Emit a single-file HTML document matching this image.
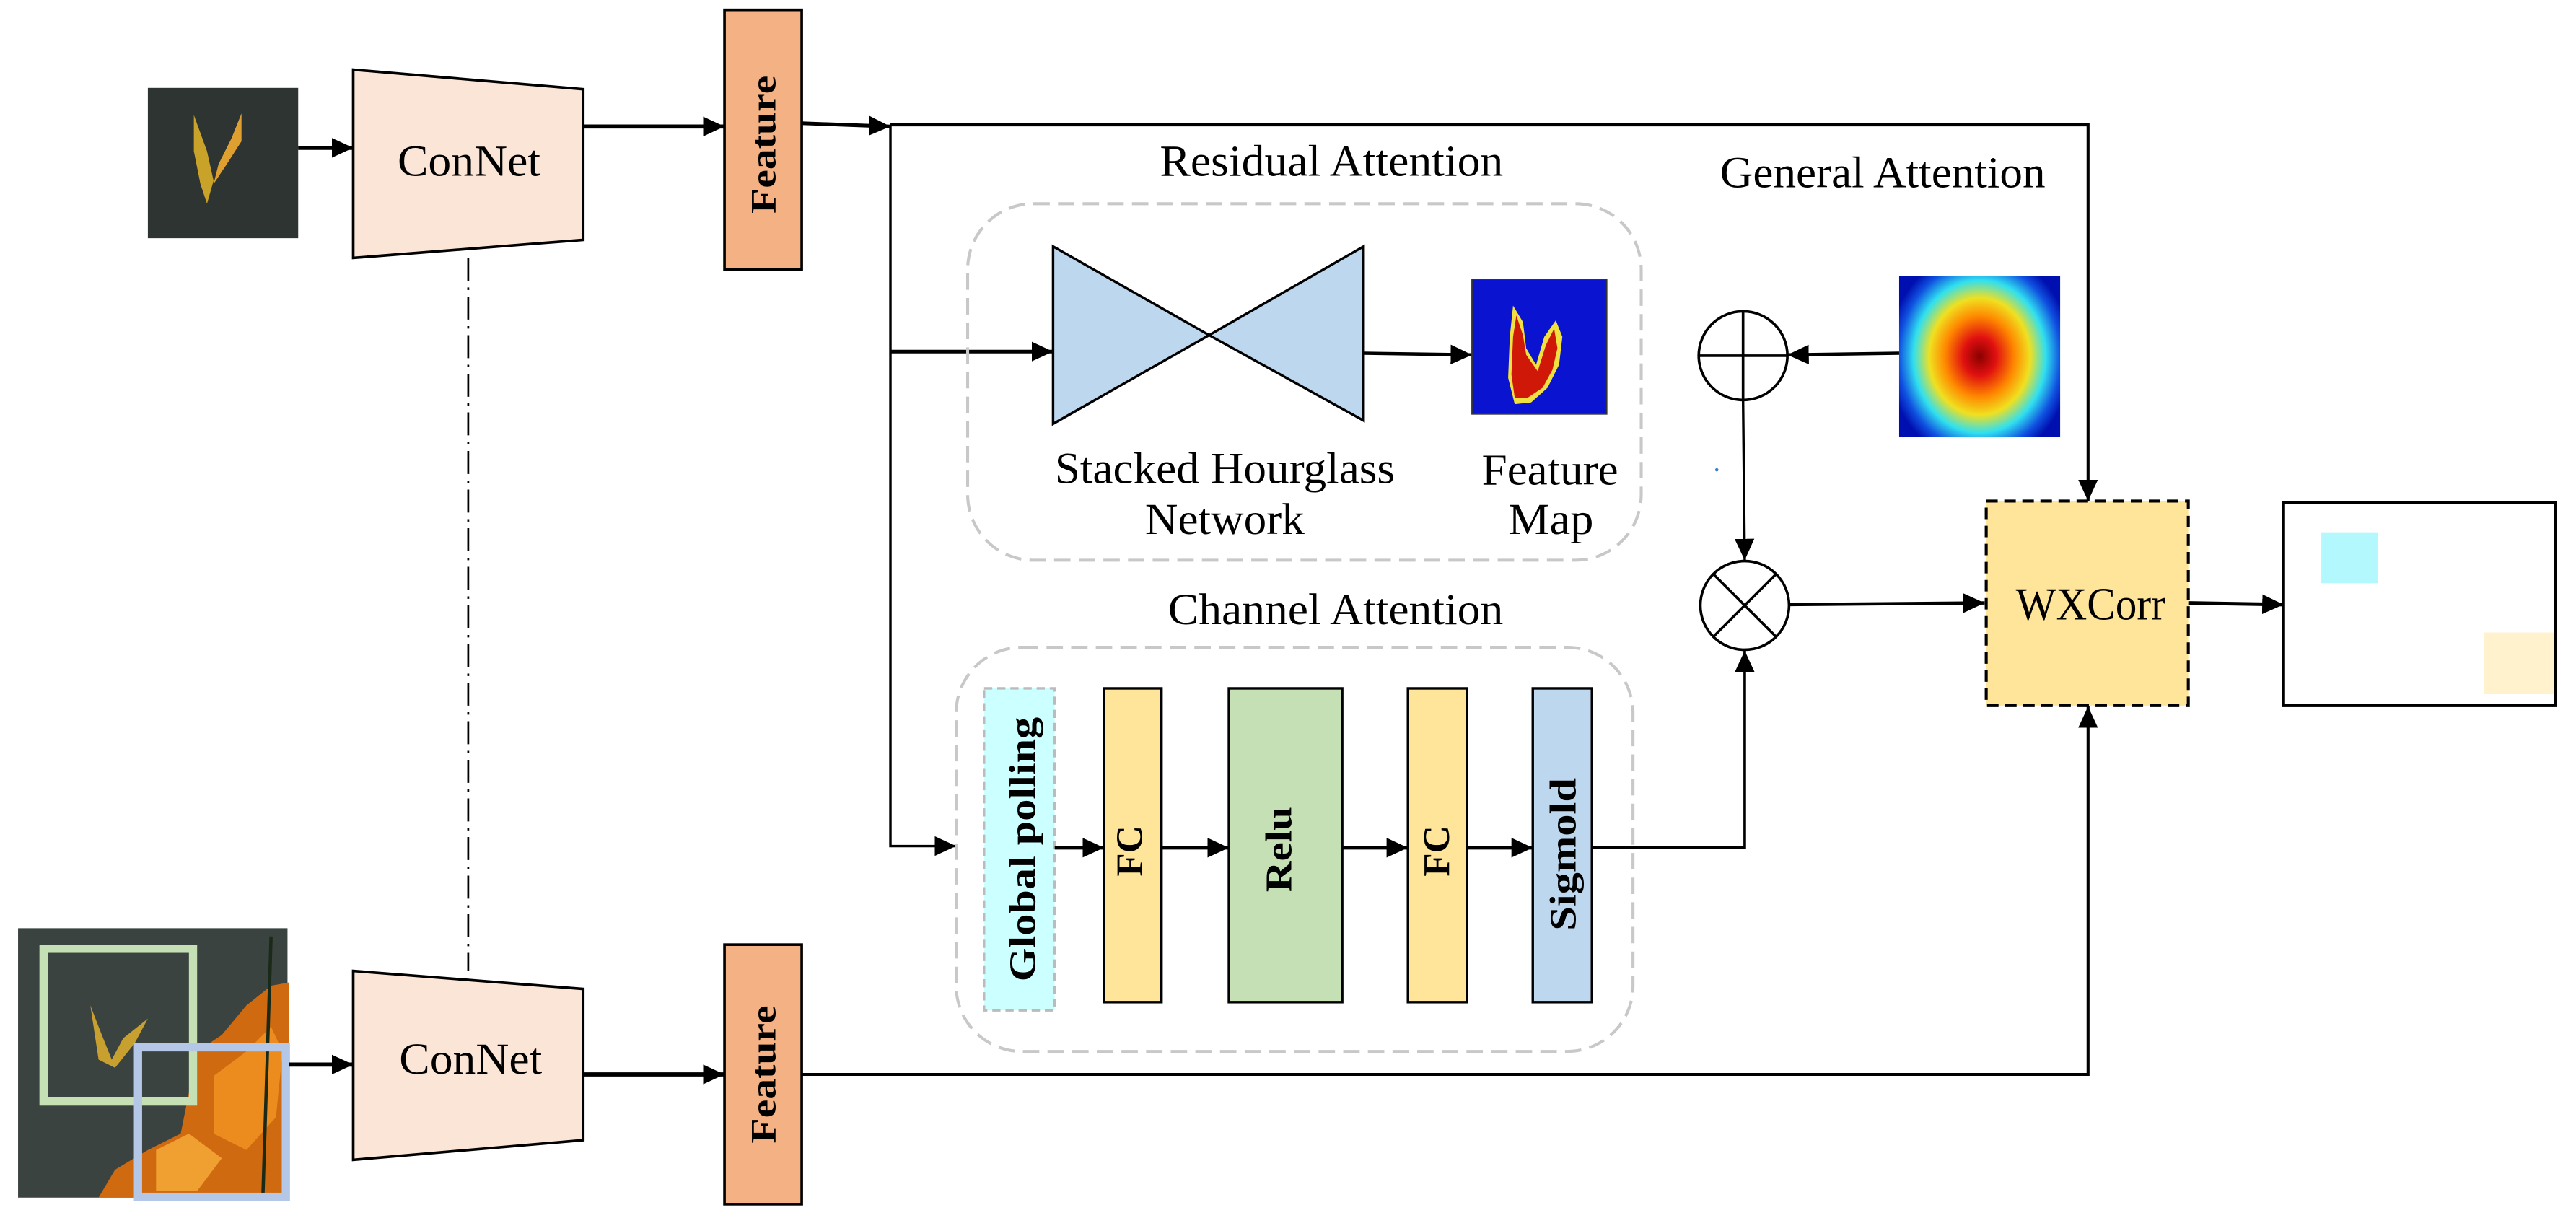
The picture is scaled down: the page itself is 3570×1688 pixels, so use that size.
<!DOCTYPE html>
<html><head><meta charset="utf-8"><style>
html,body{margin:0;padding:0;background:#fff;}
svg{display:block;}
text{font-family:"Liberation Serif",serif;fill:#000;}
</style></head><body>
<svg width="3570" height="1688" viewBox="0 0 1568 741.4" preserveAspectRatio="none" xmlns="http://www.w3.org/2000/svg">
<defs>
<marker id="a" markerUnits="userSpaceOnUse" markerWidth="14" markerHeight="12" refX="13" refY="6" orient="auto">
<path d="M0,0 L13,6 L0,12 Z" fill="#000"/></marker>
<radialGradient id="heat" cx="50%" cy="50%" r="60%" gradientTransform="translate(0.5,0.5) scale(0.95,1.1) translate(-0.5,-0.5)">
<stop offset="0" stop-color="#8a0000"/><stop offset="0.18" stop-color="#e01010"/>
<stop offset="0.38" stop-color="#ff8800"/><stop offset="0.55" stop-color="#f0e020"/>
<stop offset="0.72" stop-color="#30e0f0"/><stop offset="0.88" stop-color="#1050e0"/>
<stop offset="1" stop-color="#0010b0"/></radialGradient>
</defs>

<rect x="90" y="53.5" width="91.5" height="91.5" fill="#2e3432"/>
<path d="M118,70 L126,92 L130,110 L126,124 L122,112 L118,92 Z" fill="#c9a22a"/>
<path d="M147,69 L141,84 L133,100 L130,112 L138,100 L147,86 Z" fill="#e0a030"/>
<line x1="181.5" y1="90" x2="215" y2="90" stroke="#000" stroke-width="2.5" marker-end="url(#a)"/>

<polygon points="215,42.4 355,54.3 355,146 215,157" fill="#fbe5d6" stroke="#000" stroke-width="1.6"/>
<text x="285.5" y="107" font-size="27" text-anchor="middle" textLength="87" lengthAdjust="spacingAndGlyphs">ConNet</text>
<line x1="355" y1="77" x2="441" y2="77" stroke="#000" stroke-width="2.5" marker-end="url(#a)"/>

<rect x="441" y="6" width="47" height="158" fill="#f4b183" stroke="#000" stroke-width="1.6"/>
<text transform="translate(472,88) rotate(-90)" font-size="22" font-weight="bold" text-anchor="middle" textLength="84" lengthAdjust="spacingAndGlyphs">Feature</text>
<line x1="488" y1="75" x2="542" y2="77" stroke="#000" stroke-width="2.2" marker-end="url(#a)"/>

<polyline points="542,76 1271,76 1271,305" fill="none" stroke="#000" stroke-width="1.8" marker-end="url(#a)"/>
<polyline points="542,76 542,515 582,515" fill="none" stroke="#000" stroke-width="1.5" marker-end="url(#a)"/>
<line x1="542" y1="214" x2="641" y2="214" stroke="#000" stroke-width="2.2" marker-end="url(#a)"/>

<line x1="285" y1="157" x2="285" y2="591" stroke="#000" stroke-width="1.2" stroke-dasharray="14,4,1.5,4"/>

<text x="706" y="107" font-size="27" textLength="209" lengthAdjust="spacingAndGlyphs">Residual Attention</text>
<rect x="589" y="124" width="410" height="217" rx="40" fill="none" stroke="#c8c8c8" stroke-width="1.8" stroke-dasharray="10,5"/>
<polygon points="641,150 641,258 736,204" fill="#bdd7ee" stroke="#000" stroke-width="1.5"/>
<polygon points="830,150 830,256 736,204" fill="#bdd7ee" stroke="#000" stroke-width="1.5"/>
<line x1="830" y1="215" x2="896" y2="216" stroke="#000" stroke-width="2" marker-end="url(#a)"/>
<rect x="896" y="170" width="82" height="82" fill="#0a14d0" stroke="#333" stroke-width="0.8"/>
<path d="M921,186 L927,196 L929,212 L935,222 L940,205 L947,195 L951,205 L949,222 L942,236 L932,245 L922,246 L918,230 L919,205 Z" fill="#f0e040"/>
<path d="M923,192 L927,204 L929,216 L936,226 L941,210 L946,200 L948,212 L945,225 L939,236 L930,242 L922,242 L920,228 L921,205 Z" fill="#d01808"/>
<text x="745.5" y="294" font-size="27" text-anchor="middle" textLength="207" lengthAdjust="spacingAndGlyphs">Stacked Hourglass</text>
<text x="745.5" y="325" font-size="27" text-anchor="middle" textLength="97" lengthAdjust="spacingAndGlyphs">Network</text>
<text x="943.5" y="295" font-size="27" text-anchor="middle" textLength="83" lengthAdjust="spacingAndGlyphs">Feature</text>
<text x="944" y="325" font-size="27" text-anchor="middle" textLength="52" lengthAdjust="spacingAndGlyphs">Map</text>

<text x="1047" y="114" font-size="27" textLength="198" lengthAdjust="spacingAndGlyphs">General Attention</text>
<rect x="1156" y="168" width="98" height="98" fill="url(#heat)"/>
<line x1="1156" y1="215" x2="1088" y2="216" stroke="#000" stroke-width="2" marker-end="url(#a)"/>
<ellipse cx="1061" cy="216.5" rx="27" ry="27" fill="#fff" stroke="#000" stroke-width="1.6"/>
<line x1="1034" y1="216.5" x2="1088" y2="216.5" stroke="#000" stroke-width="1.6"/>
<line x1="1061" y1="189.5" x2="1061" y2="243.5" stroke="#000" stroke-width="1.6"/>
<line x1="1061" y1="243.5" x2="1062" y2="341" stroke="#000" stroke-width="1.5" marker-end="url(#a)"/>
<circle cx="1045" cy="286" r="1" fill="#3a7fc0"/>
<ellipse cx="1062" cy="368.5" rx="27" ry="27" fill="#fff" stroke="#000" stroke-width="1.6"/>
<line x1="1043" y1="349.5" x2="1081" y2="387.5" stroke="#000" stroke-width="1.6"/>
<line x1="1081" y1="349.5" x2="1043" y2="387.5" stroke="#000" stroke-width="1.6"/>
<line x1="1089" y1="368" x2="1208" y2="367" stroke="#000" stroke-width="2" marker-end="url(#a)"/>

<rect x="1209" y="305" width="123" height="124.5" fill="#fee599" stroke="#000" stroke-width="1.8" stroke-dasharray="7,4"/>
<text x="1227" y="377" font-size="28" textLength="91" lengthAdjust="spacingAndGlyphs">WXCorr</text>
<line x1="1332" y1="367" x2="1390" y2="368" stroke="#000" stroke-width="2.2" marker-end="url(#a)"/>
<rect x="1390" y="306" width="165.5" height="123.5" fill="#fff" stroke="#000" stroke-width="1.8"/>
<rect x="1413" y="324" width="34.5" height="31" fill="#b3f8fc"/>
<rect x="1512" y="385" width="42.5" height="37.5" fill="#fff2cc"/>

<text x="711" y="380" font-size="27" textLength="204" lengthAdjust="spacingAndGlyphs">Channel Attention</text>
<rect x="582" y="394" width="412" height="246" rx="40" fill="none" stroke="#c8c8c8" stroke-width="1.8" stroke-dasharray="10,5"/>
<rect x="599" y="419" width="43" height="196" fill="#ccffff" stroke="#bbbbbb" stroke-width="1.5" stroke-dasharray="5,3"/>
<rect x="672" y="419" width="35" height="191" fill="#fee599" stroke="#000" stroke-width="1.5"/>
<rect x="748" y="419" width="69" height="191" fill="#c5e0b4" stroke="#000" stroke-width="1.5"/>
<rect x="857" y="419" width="36" height="191" fill="#fee599" stroke="#000" stroke-width="1.5"/>
<rect x="933" y="419" width="36" height="191" fill="#bdd7ee" stroke="#000" stroke-width="1.5"/>
<text transform="translate(630,517) rotate(-90)" font-size="23" font-weight="bold" text-anchor="middle" textLength="161" lengthAdjust="spacingAndGlyphs">Global polling</text>
<text transform="translate(695,518) rotate(-90)" font-size="23" font-weight="bold" text-anchor="middle" textLength="31" lengthAdjust="spacingAndGlyphs">FC</text>
<text transform="translate(786,517) rotate(-90)" font-size="23" font-weight="bold" text-anchor="middle" textLength="52" lengthAdjust="spacingAndGlyphs">Relu</text>
<text transform="translate(882,518) rotate(-90)" font-size="23" font-weight="bold" text-anchor="middle" textLength="31" lengthAdjust="spacingAndGlyphs">FC</text>
<text transform="translate(959,520) rotate(-90)" font-size="23" font-weight="bold" text-anchor="middle" textLength="93" lengthAdjust="spacingAndGlyphs">Sigmold</text>
<line x1="642" y1="516" x2="672" y2="516" stroke="#000" stroke-width="2.2" marker-end="url(#a)"/>
<line x1="707" y1="516" x2="748" y2="516" stroke="#000" stroke-width="2.2" marker-end="url(#a)"/>
<line x1="817" y1="516" x2="857" y2="516" stroke="#000" stroke-width="2.2" marker-end="url(#a)"/>
<line x1="893" y1="516" x2="933" y2="516" stroke="#000" stroke-width="2.2" marker-end="url(#a)"/>
<polyline points="969,516 1062,516 1062,396" fill="none" stroke="#000" stroke-width="1.6" marker-end="url(#a)"/>

<rect x="11" y="565" width="164" height="164" fill="#3b4341"/>
<path d="M120,640 L135,630 L150,612 L165,600 L176,598 L176,729 L60,729 L70,712 L90,700 L110,690 Z" fill="#d06a10"/>
<path d="M130,655 L150,640 L165,625 L172,640 L168,680 L150,700 L130,690 Z" fill="#f09020" opacity="0.9"/>
<path d="M95,700 L115,690 L135,705 L120,725 L95,725 Z" fill="#f0a030"/>
<line x1="165" y1="570" x2="160" y2="729" stroke="#1a2a18" stroke-width="2"/>
<path d="M55,612 L62,630 L68,645 L75,632 L90,620 L82,635 L70,650 L60,645 Z" fill="#c8a030"/>
<rect x="26.5" y="577.5" width="91" height="93" fill="none" stroke="#c5e0b4" stroke-width="5"/>
<rect x="84" y="637.5" width="90" height="91" fill="none" stroke="#b4c7e7" stroke-width="5"/>
<line x1="176" y1="648" x2="215" y2="648" stroke="#000" stroke-width="2.5" marker-end="url(#a)"/>

<polygon points="215,591 355,602 355,694 215,706" fill="#fbe5d6" stroke="#000" stroke-width="1.6"/>
<text x="286.5" y="653.5" font-size="27" text-anchor="middle" textLength="87" lengthAdjust="spacingAndGlyphs">ConNet</text>
<line x1="355" y1="654" x2="441" y2="654" stroke="#000" stroke-width="2.5" marker-end="url(#a)"/>
<rect x="441" y="575" width="47" height="158" fill="#f4b183" stroke="#000" stroke-width="1.6"/>
<text transform="translate(472,654) rotate(-90)" font-size="22" font-weight="bold" text-anchor="middle" textLength="84" lengthAdjust="spacingAndGlyphs">Feature</text>
<polyline points="488,654 1271,654 1271,430" fill="none" stroke="#000" stroke-width="1.8" marker-end="url(#a)"/>
</svg>
</body></html>
